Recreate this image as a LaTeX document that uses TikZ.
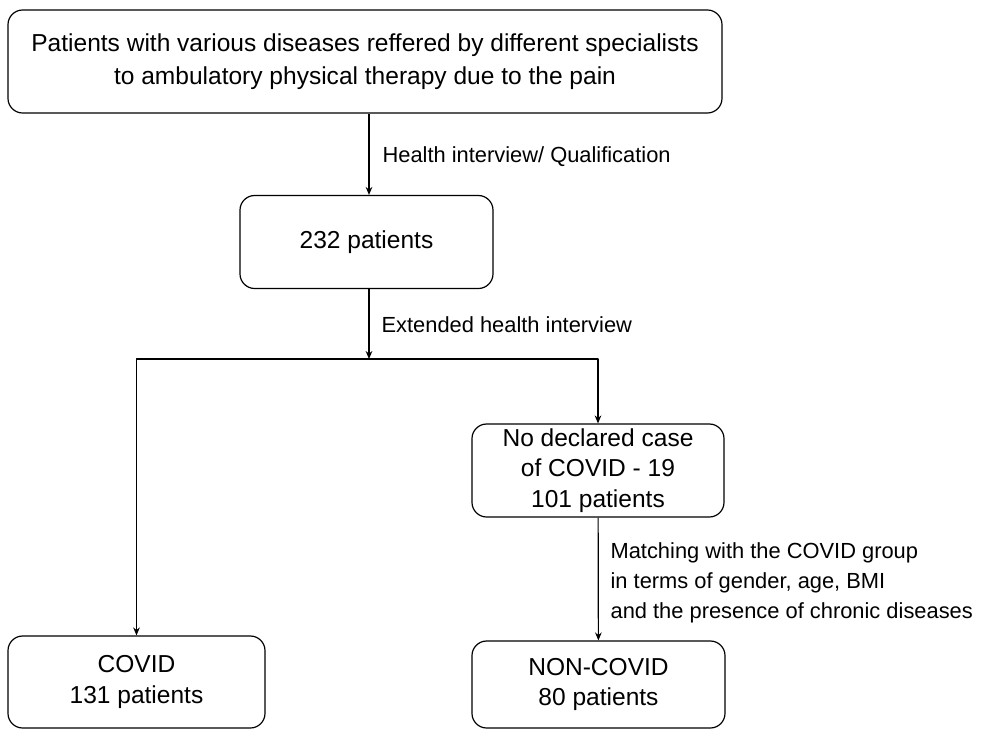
\documentclass[tikz,border=0pt]{standalone}
\usepackage{fontspec}
\setmainfont{Liberation Sans}
\usetikzlibrary{arrows.meta}
\begin{document}
\begin{tikzpicture}[x=0.75pt, y=-0.75pt, line width=0.9pt, line join=round, >={Stealth[length=6pt,width=5pt]},
  box/.style={draw, rounded corners=11pt, align=center, inner sep=0pt, font=\fontsize{18.4}{22.9}\selectfont},
  lbl/.style={anchor=west, align=left, inner sep=0pt, font=\fontsize{16.4}{22.5}\selectfont}]
\def\px{0.75pt}
\useasboundingbox (0,0) rectangle (983,729);
\clip (0,0) rectangle (983,729);
% boxes
\node[box, minimum width=714*\px, minimum height=103*\px, font=\fontsize{18.4}{24.75}\selectfont] (src) at (365,61.5)
  {Patients with various diseases reffered by different specialists\\to ambulatory physical therapy due to the pain};
\node[box, minimum width=253*\px, minimum height=93*\px] (p232) at (366.5,242) {232 patients};
\node[box, minimum width=252*\px, minimum height=93*\px] (nodecl) at (598,470.5) {No declared case\\of COVID - 19\\101 patients};
\node[box, minimum width=257*\px, minimum height=92*\px] (covid) at (136.5,682) {COVID\\131 patients};
\node[box, minimum width=253*\px, minimum height=87*\px] (noncovid) at (598.5,684.5) {NON-COVID\\80 patients};
% labels
\node[lbl] (lhealth) at (382,157) {Health interview/ Qualification};
\node[lbl] (lext) at (381,325) {Extended health interview};
\node[lbl] (lmatch) at (610,583) {Matching with the COVID group\\in terms of gender, age, BMI\\and the presence of chronic diseases};
% connectors
\coordinate (split) at (369,359);
\draw[->] (src.south -| split) -- (p232.north -| split);
\draw[->] (p232.south -| split) -- (split);
\draw[->] (split) -| (covid.north);
\draw[->] (split) -| (nodecl.north);
\draw[->] (nodecl) -- (noncovid);
\end{tikzpicture}
\end{document}
